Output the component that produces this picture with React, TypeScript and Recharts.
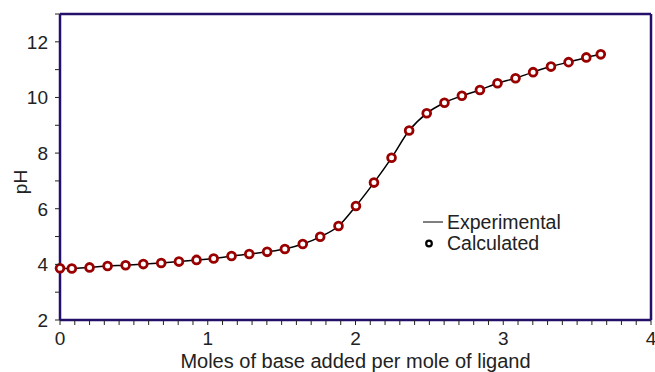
import React from 'react';
import { ComposedChart, Line, XAxis, YAxis, ReferenceLine } from 'recharts';

const moles = [0, 0.08, 0.2, 0.322, 0.444, 0.564, 0.685, 0.805, 0.924, 1.04, 1.161, 1.281, 1.402, 1.522, 1.643, 1.761, 1.885, 2.003, 2.125, 2.244, 2.363, 2.482, 2.602, 2.72, 2.842, 2.961, 3.083, 3.202, 3.323, 3.442, 3.562, 3.66];
const experimentalPH = [3.86, 3.85, 3.89, 3.94, 3.97, 4.01, 4.05, 4.1, 4.16, 4.21, 4.3, 4.37, 4.45, 4.55, 4.73, 4.99, 5.38, 6.1, 6.94, 7.83, 8.81, 9.43, 9.81, 10.06, 10.27, 10.51, 10.69, 10.91, 11.11, 11.27, 11.44, 11.55];
const calculatedPH = [3.86, 3.85, 3.89, 3.94, 3.97, 4.01, 4.05, 4.1, 4.16, 4.21, 4.3, 4.37, 4.45, 4.55, 4.73, 4.99, 5.38, 6.1, 6.94, 7.83, 8.81, 9.43, 9.81, 10.06, 10.27, 10.51, 10.69, 10.91, 11.11, 11.27, 11.44, 11.55];
const xTicks = Array.from({ length: 41 }, (_, i) => i / 10);
const xLabels = [0, 1, 2, 3, 4];
const yTicks = [2, 3, 4, 5, 6, 7, 8, 9, 10, 11, 12, 13];
const yLabels = [2, 4, 6, 8, 10, 12];
const seriesNames = ['Experimental', 'Calculated'];

const data = moles.map((m, i) => ({ x: m, exp: experimentalPH[i], calc: calculatedPH[i] }));

const FONT = '"Liberation Sans", Arial, sans-serif';
const FRAME = '#24106a';
const TEXT = '#222';

const XTick = (props: any) => {
  const { x, y, payload } = props;
  const v = payload.value;
  const isLabel = xLabels.some((l) => Math.abs(l - v) < 1e-6);
  return (
    <g>
      <line x1={x} x2={x} y1={y} y2={y + 5} stroke="#222" strokeWidth={1} />
      {isLabel && (
        <text x={x} y={y + 25} textAnchor="middle" fontSize={19} fontFamily={FONT} fill={TEXT}>
          {Math.round(v)}
        </text>
      )}
    </g>
  );
};

const YTick = (props: any) => {
  const { x, y, payload } = props;
  const v = payload.value;
  const isLabel = yLabels.includes(v);
  return (
    <g>
      <line x1={x} x2={x - 5} y1={y} y2={y} stroke="#222" strokeWidth={1} />
      {isLabel && (
        <text x={x - 12} y={y + 7} textAnchor="end" fontSize={19} fontFamily={FONT} fill={TEXT}>
          {v}
        </text>
      )}
    </g>
  );
};

const LegendBox = () => (
  <svg
    width={180}
    height={50}
    style={{ position: 'absolute', left: 415, top: 210, overflow: 'visible' }}
  >
    <line x1={8} x2={28} y1={12} y2={12} stroke="#000" strokeWidth={1} />
    <text x={32} y={18.5} fontSize={19.5} fontFamily={FONT} fill={TEXT}>
      {seriesNames[0]}
    </text>
    <circle cx={14} cy={33.5} r={2.8} stroke="#000" strokeWidth={2.2} fill="#fff" />
    <text x={32} y={40} fontSize={19.5} fontFamily={FONT} fill={TEXT}>
      {seriesNames[1]}
    </text>
  </svg>
);

export default function App() {
  return (
    <div style={{ position: 'absolute', left: 0, top: 0, width: 655, height: 372, background: '#fff' }}>
      <ComposedChart width={655} height={372} data={data} margin={{ top: 14, right: 4, bottom: 0, left: 0 }}>
        <XAxis
          type="number"
          dataKey="x"
          domain={[0, 4]}
          ticks={xTicks}
          interval={0}
          tickLine={false}
          tickSize={0}
          tickMargin={0}
          tick={<XTick />}
          height={52}
          axisLine={{ stroke: FRAME, strokeWidth: 2.5 }}
          label={{
            content: (p: any) => {
              const vb = p.viewBox || { x: 60, width: 591 };
              return (
                <text
                  x={vb.x + vb.width / 2}
                  y={368}
                  textAnchor="middle"
                  fontSize={20}
                  fontFamily={FONT}
                  fill={TEXT}
                >
                  Moles of base added per mole of ligand
                </text>
              );
            },
          }}
        />
        <YAxis
          type="number"
          domain={[2, 13]}
          ticks={yTicks}
          interval={0}
          tickLine={false}
          tickSize={0}
          tickMargin={0}
          tick={<YTick />}
          width={60}
          axisLine={{ stroke: FRAME, strokeWidth: 2.5 }}
          label={{
            content: () => (
              <text
                x={27}
                y={182}
                transform="rotate(-90, 27, 182)"
                textAnchor="middle"
                fontSize={19}
                fontFamily={FONT}
                fill={TEXT}
              >
                pH
              </text>
            ),
          }}
        />
        <ReferenceLine y={13} stroke={FRAME} strokeWidth={2.5} />
        <ReferenceLine x={4} stroke={FRAME} strokeWidth={2.5} />
        <Line
          type="monotone"
          dataKey="exp"
          stroke="#000"
          strokeWidth={1.5}
          dot={false}
          activeDot={false}
          isAnimationActive={false}
          name={seriesNames[0]}
        />
        <Line
          type="monotone"
          dataKey="calc"
          stroke="none"
          dot={{ r: 3.9, stroke: '#990000', strokeWidth: 2.8, fill: '#fff' }}
          activeDot={false}
          isAnimationActive={false}
          name={seriesNames[1]}
        />
      </ComposedChart>
      <LegendBox />
    </div>
  );
}
